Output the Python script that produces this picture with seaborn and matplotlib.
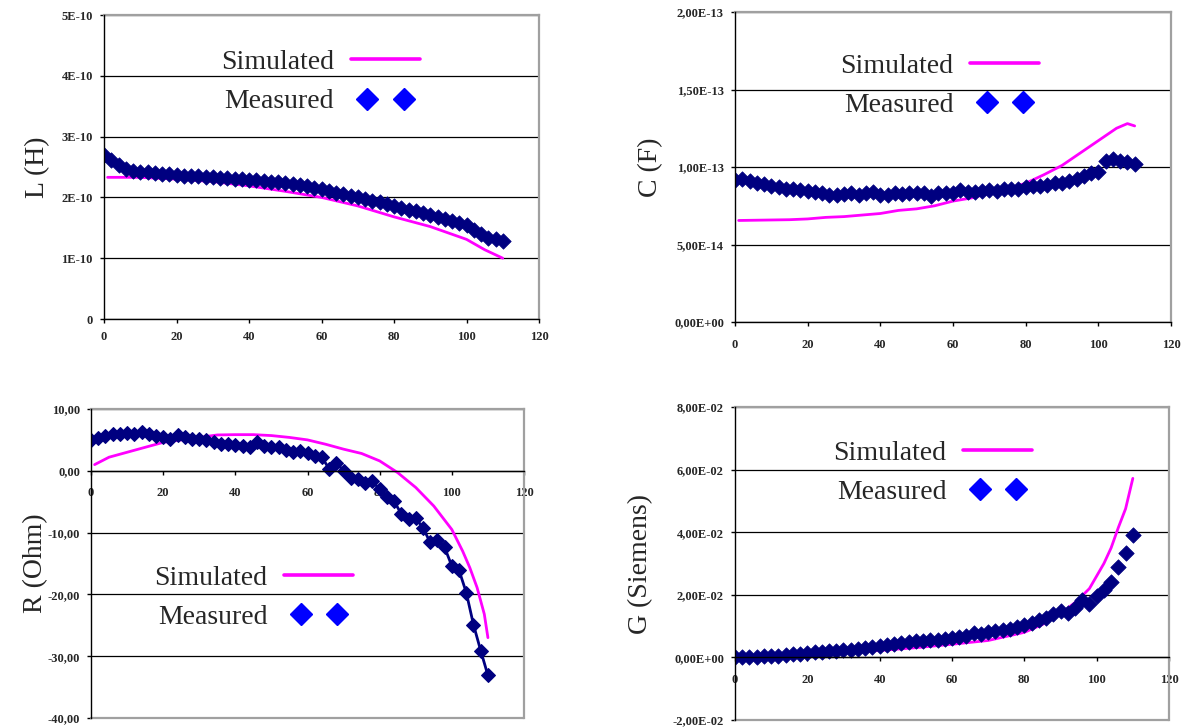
import numpy as np
import pandas as pd
import matplotlib
matplotlib.use("Agg")
import matplotlib.pyplot as plt
from matplotlib.lines import Line2D
from matplotlib.legend_handler import HandlerLine2D
import seaborn as sns

# measured points, every 2 units along the line
x_meas = list(range(0, 111, 2))

L_meas = [2.70, 2.62, 2.54, 2.47, 2.43, 2.42, 2.41, 2.40, 2.39, 2.38,
          2.37, 2.36, 2.35, 2.35, 2.34, 2.33, 2.32, 2.32, 2.31, 2.30,
          2.29, 2.28, 2.27, 2.26, 2.25, 2.24, 2.22, 2.20, 2.18, 2.16,
          2.13, 2.11, 2.08, 2.05, 2.02, 2.00, 1.97, 1.94, 1.92, 1.89,
          1.86, 1.83, 1.80, 1.77, 1.74, 1.71, 1.68, 1.65, 1.62, 1.58,
          1.54, 1.46, 1.39, 1.34, 1.32, 1.29]  # x 1E-10 H
C_meas = [0.915, 0.92, 0.91, 0.90, 0.89, 0.88, 0.87, 0.86, 0.855, 0.85,
          0.845, 0.84, 0.835, 0.82, 0.82, 0.825, 0.83, 0.82, 0.83, 0.84,
          0.82, 0.82, 0.83, 0.825, 0.83, 0.83, 0.83, 0.81, 0.83, 0.835,
          0.83, 0.85, 0.84, 0.84, 0.845, 0.85, 0.845, 0.86, 0.86, 0.86,
          0.87, 0.875, 0.88, 0.885, 0.895, 0.90, 0.91, 0.925, 0.94, 0.96,
          0.97, 1.04, 1.05, 1.04, 1.03, 1.02]  # x 1E-13 F
R_meas = [5.0, 5.3, 5.6, 6.0, 6.0, 6.1, 6.0, 6.2, 5.9, 5.7,
          5.5, 5.2, 5.8, 5.4, 5.2, 5.1, 5.0, 4.6, 4.3, 4.3,
          4.2, 4.0, 3.9, 4.6, 4.0, 3.8, 3.9, 3.4, 3.0, 3.2,
          2.9, 2.4, 2.2, 0.3, 1.3, 0.0, -1.1, -1.3, -2.0, -1.7,
          -3.0, -4.3, -4.9, -7.0, -7.8, -7.7, -9.2, -11.6, -11.2, -12.4,
          -15.4, -16.1, -19.7, -24.9, -29.1, -33.1]  # Ohm
G_meas = [0.00, 0.00, 0.01, 0.02, 0.03, 0.05, 0.06, 0.08, 0.10, 0.12,
          0.14, 0.16, 0.18, 0.19, 0.21, 0.23, 0.25, 0.28, 0.31, 0.34,
          0.37, 0.39, 0.42, 0.45, 0.48, 0.51, 0.53, 0.55, 0.57, 0.59,
          0.61, 0.64, 0.68, 0.78, 0.74, 0.82, 0.85, 0.88, 0.92, 0.97,
          1.03, 1.10, 1.18, 1.27, 1.40, 1.48, 1.42, 1.58, 1.82, 1.72,
          1.95, 2.15, 2.40, 2.90, 3.34, 3.90]  # x 1E-2 S

# simulated curves
L_sim_x = [1, 10, 20, 30, 40, 50, 60, 70, 80, 90, 100, 105, 110]
L_sim = [2.33, 2.33, 2.30, 2.26, 2.19, 2.10, 2.00, 1.86, 1.68, 1.52, 1.31, 1.14, 1.00]
C_sim_x = [1, 15, 20, 25, 30, 35, 40, 45, 50, 55, 60, 65, 70, 75, 80, 85, 90, 95,
           100, 105, 108, 110]
C_sim = [0.655, 0.66, 0.665, 0.675, 0.68, 0.69, 0.70, 0.72, 0.73, 0.75, 0.78, 0.80,
         0.83, 0.86, 0.895, 0.95, 1.01, 1.09, 1.17, 1.25, 1.28, 1.265]
R_sim_x = [1, 5, 10, 15, 20, 25, 30, 35, 40, 45, 50, 55, 60, 65, 70, 75, 80, 85, 90,
           95, 100, 103, 105, 107, 109, 110]
R_sim = [1.0, 2.2, 3.0, 3.8, 4.6, 5.0, 5.4, 5.8, 5.85, 5.85, 5.7, 5.4, 5.0, 4.3, 3.5,
         2.8, 1.6, -0.3, -2.7, -5.7, -9.5, -13.0, -15.7, -18.9, -23.2, -27.0]
G_sim_x = [0, 10, 20, 30, 40, 50, 60, 70, 80, 85, 90, 94, 96, 98, 100, 102, 104, 106,
           108, 110]
G_sim = [0.0, 0.04, 0.09, 0.15, 0.22, 0.31, 0.42, 0.54, 0.80, 1.05, 1.40, 1.75, 1.97,
         2.2, 2.6, 3.0, 3.5, 4.15, 4.75, 5.72]

x_ticks = [0, 20, 40, 60, 80, 100, 120]
L_ticks = [0, 1e-10, 2e-10, 3e-10, 4e-10, 5e-10]
L_labels = ["0", "1E-10", "2E-10", "3E-10", "4E-10", "5E-10"]
C_ticks = [0, 5e-14, 1e-13, 1.5e-13, 2e-13]
C_labels = ["0,00E+00", "5,00E-14", "1,00E-13", "1,50E-13", "2,00E-13"]
R_ticks = [-40, -30, -20, -10, 0, 10]
R_labels = ["-40,00", "-30,00", "-20,00", "-10,00", "0,00", "10,00"]
G_ticks = [-0.02, 0, 0.02, 0.04, 0.06, 0.08]
G_labels = ["-2,00E-02", "0,00E+00", "2,00E-02", "4,00E-02", "6,00E-02", "8,00E-02"]

sns.set_theme(style="white")
plt.rcParams["font.family"] = ["Liberation Serif", "DejaVu Serif"]

SIM = "#FF00FF"
MEAS = "#000080"
LEG_MEAS = "#0000FF"
BORDER = "#a0a0a0"

W, H = 1189, 728
fig = plt.figure(figsize=(W / 100, H / 100), dpi=100)


def make_axes(l, t, r, b):
    return fig.add_axes([l / W, 1 - b / H, (r - l) / W, (b - t) / H])


panels = [
    dict(box=(104, 15, 539, 319), xm=x_meas, ym=np.array(L_meas) * 1e-10,
         xs=L_sim_x, ys=np.array(L_sim) * 1e-10, lim=(0, 5e-10),
         ticks=L_ticks, labels=L_labels, ylabel="L (H)", lab_x=-0.124,
         leg=(0.498, 0.780), xpad=6, join=False),
    dict(box=(735, 12, 1171, 322), xm=x_meas, ym=np.array(C_meas) * 1e-13,
         xs=C_sim_x, ys=np.array(C_sim) * 1e-13, lim=(0, 2e-13),
         ticks=C_ticks, labels=C_labels, ylabel="C (F)", lab_x=-0.165,
         leg=(0.470, 0.762), xpad=9, join=False),
    dict(box=(91, 409, 524, 718), xm=x_meas, ym=np.array(R_meas),
         xs=R_sim_x, ys=np.array(R_sim), lim=(-40, 10),
         ticks=R_ticks, labels=R_labels, ylabel="R (Ohm)", lab_x=-0.099,
         leg=(0.376, 0.390), xpad=9, join=True),
    dict(box=(735, 407, 1169, 720), xm=x_meas, ym=np.array(G_meas) * 1e-2,
         xs=G_sim_x, ys=np.array(G_sim) * 1e-2, lim=(-0.02, 0.08),
         ticks=G_ticks, labels=G_labels, ylabel="G (Siemens)", lab_x=-0.189,
         leg=(0.456, 0.790), xpad=9, join=False),
]

for p in panels:
    ax = make_axes(*p["box"])
    sim_df = pd.DataFrame({"x": p["xs"], "y": p["ys"]})
    meas_df = pd.DataFrame({"x": p["xm"], "y": p["ym"]})

    sns.lineplot(data=sim_df, x="x", y="y", ax=ax, color=SIM, lw=2.0,
                 estimator=None, sort=False, zorder=3)
    if p["join"]:
        sns.lineplot(data=meas_df, x="x", y="y", ax=ax, color=MEAS, lw=2.0,
                     marker="D", markersize=7.5, markeredgecolor=MEAS,
                     estimator=None, sort=False, zorder=4)
    else:
        sns.scatterplot(data=meas_df, x="x", y="y", ax=ax, color=MEAS,
                        marker="D", s=62, edgecolor=MEAS, linewidth=0.5,
                        zorder=4)

    # move the x axis to y = 0 first, since that resets the tick labels
    if p["lim"][0] < 0:
        ax.spines["bottom"].set_position(("data", 0))
        ax.axhline(p["lim"][0], color=BORDER, lw=1.6, zorder=5, clip_on=False)

    ax.set_xlim(0, 120)
    ax.set_ylim(*p["lim"])
    ax.set_xticks(x_ticks)
    ax.set_xticklabels([str(v) for v in x_ticks], fontweight="bold", fontsize=9)
    ax.set_yticks(p["ticks"])
    ax.set_yticklabels(p["labels"], fontweight="bold", fontsize=9)
    ax.set_xlabel("")
    ax.set_ylabel(p["ylabel"], fontsize=20)
    ax.yaxis.set_label_coords(p["lab_x"], 0.5)

    ax.yaxis.grid(True, color="black", lw=0.9)
    ax.xaxis.grid(False)
    ax.set_axisbelow(True)

    ax.tick_params(axis="both", direction="out", length=3, width=1,
                   color="black", left=True, bottom=True)
    ax.tick_params(axis="y", pad=5)
    ax.tick_params(axis="x", pad=p["xpad"])

    for side in ("top", "right"):
        ax.spines[side].set_color(BORDER)
        ax.spines[side].set_linewidth(1.6)
    for side in ("left", "bottom"):
        ax.spines[side].set_color("black")
        ax.spines[side].set_linewidth(1.0)
        ax.spines[side].set_zorder(5)

    sim_h = Line2D([], [], color=SIM, lw=2.6)
    meas_h = Line2D([], [], color=LEG_MEAS, marker="D", ls="", ms=11.5)
    ax.legend([sim_h, meas_h], ["Simulated", "Measured"], loc="center",
              bbox_to_anchor=p["leg"], frameon=False, markerfirst=False,
              handlelength=2.5, handletextpad=0.6, labelspacing=0.5,
              borderpad=0, fontsize=20,
              handler_map={meas_h: HandlerLine2D(numpoints=2, marker_pad=0.6)})

fig.savefig("out.png", dpi=100, facecolor="white")
